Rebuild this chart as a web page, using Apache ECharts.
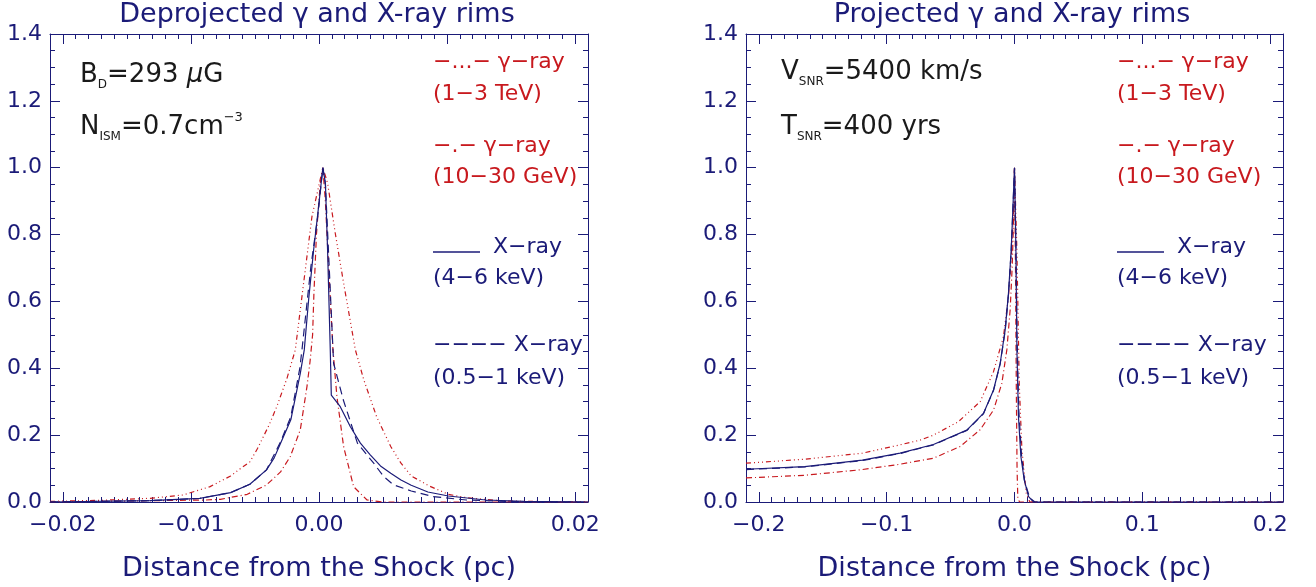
<!DOCTYPE html>
<html>
<head>
<meta charset="utf-8">
<script src="https://cdn.jsdelivr.net/npm/echarts@6/dist/echarts.min.js"></script>
<style>
html,body{margin:0;padding:0;background:#fff;}
#chart{width:1316px;height:587px;}
</style>
</head>
<body>
<div id="chart"></div>
<script>
// ---------- Data ----------
// Left panel: deprojected profiles
const leftTeV_x = [-0.021,-0.017,-0.0132,-0.0106,-0.0085,-0.0077,-0.0069,-0.0062,-0.0054,-0.0048,-0.0039,-0.0033,-0.0025,-0.00185,-0.0012,-0.00055,0.0003,0.00067,0.00127,0.00192,0.00284,0.0035,0.0045,0.0056,0.0064,0.0072,0.0086,0.0101,0.0115,0.0144,0.018,0.021];
const leftTeV_y = [0.002,0.005,0.011,0.021,0.046,0.062,0.078,0.098,0.12,0.16,0.23,0.285,0.37,0.455,0.655,0.854,1.0,0.954,0.804,0.655,0.455,0.365,0.255,0.166,0.116,0.078,0.048,0.023,0.013,0.003,0.001,0.0];

const leftGeV_x = [-0.021,-0.0088,-0.0077,-0.0056,-0.0041,-0.003,-0.00224,-0.00146,-0.00094,-0.0007,-0.0005,-0.0004,-0.0002,0.0001,0.0003,0.00049,0.00075,0.00109,0.0014,0.00192,0.0027,0.00375,0.005,0.021];
const leftGeV_y = [0.0,0.006,0.008,0.023,0.051,0.09,0.136,0.216,0.345,0.42,0.5,0.62,0.8,0.954,1.0,0.904,0.705,0.455,0.315,0.166,0.046,0.006,0.0,0.0];

const leftX46_x = [-0.021,-0.0132,-0.0093,-0.0069,-0.0054,-0.0041,-0.0035,-0.003,-0.0022,-0.00146,-0.00115,-0.00081,-0.00042,-0.00003,0.0003,0.0005,0.00067,0.00088,0.00096,0.00166,0.00245,0.00323,0.004,0.0048,0.0056,0.0064,0.0072,0.0085,0.0101,0.013,0.016,0.021];
const leftX46_y = [0.0,0.004,0.011,0.028,0.053,0.096,0.132,0.176,0.246,0.385,0.455,0.605,0.754,0.884,1.0,0.954,0.754,0.455,0.32,0.285,0.225,0.176,0.141,0.108,0.086,0.066,0.05,0.03,0.018,0.006,0.002,0.0];

const leftX051_x = [-0.021,-0.0132,-0.0093,-0.0069,-0.0054,-0.0041,-0.003,-0.0022,-0.0015,-0.00133,-0.00105,-0.00063,-0.0001,0.0003,0.0005,0.0008,0.00114,0.0019,0.003,0.00427,0.00505,0.00583,0.0072,0.0089,0.0115,0.015,0.021];
const leftX051_y = [0.0,0.004,0.011,0.028,0.053,0.096,0.18,0.255,0.4,0.455,0.555,0.705,0.854,1.0,0.95,0.7,0.415,0.305,0.176,0.116,0.076,0.051,0.033,0.016,0.006,0.001,0.0];

// Right panel: projected profiles
const rightTeV_x = [-0.21,-0.164,-0.119,-0.0895,-0.074,-0.0634,-0.044,-0.0269,-0.0164,-0.0086,-0.0047,-0.0026,-0.0008,0.0,0.0019,0.0037,0.0058,0.0092,0.012,0.21];
const rightTeV_y = [0.116,0.128,0.146,0.171,0.185,0.2,0.24,0.3,0.39,0.495,0.615,0.725,0.854,1.0,0.75,0.355,0.156,0.026,0.0,0.0];

const rightGeV_x = [-0.21,-0.164,-0.119,-0.0895,-0.0634,-0.0425,-0.0269,-0.0164,-0.0099,-0.006,-0.0034,-0.0018,-0.0008,0.0,0.0008,0.0014,0.002,0.0026,0.004,0.21];
const rightGeV_y = [0.072,0.08,0.097,0.113,0.131,0.166,0.216,0.275,0.355,0.455,0.575,0.705,0.834,1.0,0.7,0.35,0.1,0.01,0.0,0.0];

const rightX46_x = [-0.21,-0.164,-0.119,-0.0895,-0.0634,-0.0373,-0.0243,-0.0164,-0.0112,-0.0073,-0.0047,-0.0026,-0.0013,0.0,0.0011,0.0019,0.0031,0.005,0.0076,0.011,0.015,0.21];
const rightX46_y = [0.098,0.106,0.125,0.146,0.172,0.215,0.265,0.335,0.415,0.515,0.625,0.754,0.874,1.0,0.754,0.455,0.255,0.136,0.066,0.016,0.0,0.0];

const rightX051_x = [-0.21,-0.164,-0.119,-0.0895,-0.0634,-0.0373,-0.0243,-0.0164,-0.0112,-0.0073,-0.0047,-0.0026,-0.0013,0.0,0.0011,0.002,0.0033,0.0055,0.008,0.012,0.016,0.21];
const rightX051_y = [0.097,0.105,0.124,0.145,0.171,0.214,0.264,0.334,0.413,0.512,0.622,0.75,0.87,1.0,0.78,0.5,0.28,0.14,0.06,0.012,0.0,0.0];

// Tick labels
const leftXTicks = [-0.02,-0.01,0.00,0.01,0.02];
const rightXTicks = [-0.2,-0.1,0.0,0.1,0.2];
const yTicks = [0.0,0.2,0.4,0.6,0.8,1.0,1.2,1.4];

// Text
const leftTitle = 'Deprojected \u03b3 and X-ray rims';
const rightTitle = 'Projected \u03b3 and X-ray rims';
const xTitle = 'Distance from the Shock (pc)';
const legendTexts = ['\u2212...\u2212 \u03b3\u2212ray','(1\u22123 TeV)','\u2212.\u2212 \u03b3\u2212ray','(10\u221230 GeV)','X\u2212ray','(4\u22126 keV)','\u2212\u2212\u2212\u2212 X\u2212ray','(0.5\u22121 keV)'];

// ---------- Styling ----------
const NAVY = '#1b1b78';
const RED = '#c8191e';
const FONT = 'DejaVu Sans';

const chart = echarts.init(document.getElementById('chart'), null, {renderer:'canvas'});

function pairs(xs, ys){ return xs.map((x,i)=>[x, ys[i]]); }
function minorTicks(majors){
  const step = (majors[1]-majors[0])/10;
  const out = [];
  for (let k=-2; k<=(majors.length-1)*10+2; k++){
    const v = +(majors[0]+k*step).toFixed(6);
    if (k%10!==0) out.push(v);
  }
  return out;
}
function fmtX(dec){ return v => v.toFixed(dec).replace('-', '\u2212'); }

function xAxesFor(gridIndex, range, majors, dec){
  const base = {type:'value', gridIndex, min:-range, max:range, splitLine:{show:false}};
  const lineStyle = {color:NAVY, width:1};
  return [
    Object.assign({}, base, {position:'bottom',
      axisLine:{show:true, onZero:false, lineStyle},
      axisTick:{show:true, inside:true, length:10, customValues:majors, lineStyle},
      axisLabel:{show:true, customValues:majors, formatter:fmtX(dec), color:NAVY, fontFamily:FONT, fontSize:22, margin:12},
      name:xTitle, nameLocation:'middle', nameGap:53, nameTextStyle:{color:NAVY, fontFamily:FONT, fontSize:27}}),
    Object.assign({}, base, {position:'bottom',
      axisLine:{show:false, onZero:false},
      axisTick:{show:true, inside:true, length:5, customValues:minorTicks(majors), lineStyle},
      axisLabel:{show:false}}),
    Object.assign({}, base, {position:'top',
      axisLine:{show:true, onZero:false, lineStyle},
      axisTick:{show:true, inside:true, length:10, customValues:majors, lineStyle},
      axisLabel:{show:false}}),
    Object.assign({}, base, {position:'top',
      axisLine:{show:false, onZero:false},
      axisTick:{show:true, inside:true, length:5, customValues:minorTicks(majors), lineStyle},
      axisLabel:{show:false}})
  ];
}
function yAxesFor(gridIndex){
  const lineStyle = {color:NAVY, width:1};
  const base = {type:'value', gridIndex, min:yTicks[0], max:yTicks[yTicks.length-1], interval:0.2, splitLine:{show:false},
    minorTick:{show:true, splitNumber:4, length:5, lineStyle}};
  return [
    Object.assign({}, base, {position:'left',
      axisLine:{show:true, onZero:false, lineStyle},
      axisTick:{show:true, inside:true, length:10, lineStyle},
      axisLabel:{show:true, formatter:v=>v.toFixed(1), color:NAVY, fontFamily:FONT, fontSize:22, margin:8}}),
    Object.assign({}, base, {position:'right',
      axisLine:{show:true, onZero:false, lineStyle},
      axisTick:{show:true, inside:true, length:10, lineStyle},
      axisLabel:{show:false}})
  ];
}

const TEV_DASH = [5,3,1,3,1,3,1,3];
const GEV_DASH = [6,3,1,3];
const XDASH = [8,5];

function line(data, xi, yi, color, type){
  return {type:'line', data, xAxisIndex:xi, yAxisIndex:yi, showSymbol:false, symbol:'none', smooth:false,
    lineStyle:{color, width:1.2, type}, silent:true, z:3};
}

const series = [
  line(pairs(leftTeV_x,leftTeV_y),0,0,RED,TEV_DASH),
  line(pairs(leftGeV_x,leftGeV_y),0,0,RED,GEV_DASH),
  line(pairs(leftX46_x,leftX46_y),0,0,NAVY,'solid'),
  line(pairs(leftX051_x,leftX051_y),0,0,NAVY,XDASH),
  line(pairs(rightTeV_x,rightTeV_y),4,2,RED,TEV_DASH),
  line(pairs(rightGeV_x,rightGeV_y),4,2,RED,GEV_DASH),
  line(pairs(rightX46_x,rightX46_y),4,2,NAVY,'solid'),
  line(pairs(rightX051_x,rightX051_y),4,2,NAVY,XDASH)
];

// ---------- Graphic texts ----------
const legendY = [62,94,146,177,247,278,345,378];
const legendColor = [RED,RED,RED,RED,NAVY,NAVY,NAVY,NAVY];
function legendFor(x0){
  const g = [];
  legendTexts.forEach((t,i)=>{
    const isSolid = (i===4);
    g.push({type:'text', x: isSolid ? x0+60 : x0, y: legendY[i], silent:true,
      style:{text:t, fill:legendColor[i], font:'22px "DejaVu Sans"', textVerticalAlign:'middle', textAlign:'left'}});
  });
  g.push({type:'line', silent:true, shape:{x1:x0, y1:legendY[4]+5, x2:x0+47, y2:legendY[4]+5}, style:{stroke:NAVY, lineWidth:1.4}});
  return g;
}
const rich = {
  m:{fontSize:26, fontFamily:FONT, fill:'#1a1a1a', lineHeight:32},
  i:{fontSize:26, fontFamily:FONT, fontStyle:'italic', fill:'#1a1a1a', lineHeight:32},
  s:{fontSize:12, fontFamily:FONT, fill:'#1a1a1a', lineHeight:24, verticalAlign:'bottom'},
  u:{fontSize:13, fontFamily:FONT, fill:'#1a1a1a', lineHeight:15, verticalAlign:'top'}
};
function rtext(x, y, text){
  return {type:'text', x, y, silent:true, style:{text, rich, textVerticalAlign:'middle', textAlign:'left'}};
}

const graphic = [
  {type:'text', x:317, y:15, silent:true, style:{text:leftTitle, fill:NAVY, font:'27px "DejaVu Sans"', textAlign:'center', textVerticalAlign:'middle'}},
  {type:'text', x:1012, y:15, silent:true, style:{text:rightTitle, fill:NAVY, font:'27px "DejaVu Sans"', textAlign:'center', textVerticalAlign:'middle'}},
  rtext(80, 75, '{m|B}{s|D}{m|=293 }{i|\u03bc}{m|G}'),
  rtext(80, 127, '{m|N}{s|ISM}{m|=0.7cm}{u|\u22123}'),
  rtext(781, 72, '{m|V}{s|SNR}{m|=5400 km/s}'),
  rtext(781, 127, '{m|T}{s|SNR}{m|=400 yrs}')
].concat(legendFor(433)).concat(legendFor(1117));

const option = {
  animation:false,
  backgroundColor:'#ffffff',
  grid:[
    {left:50, top:34, width:538, height:468},
    {left:746, top:34, width:537, height:468}
  ],
  xAxis: xAxesFor(0, 0.021, leftXTicks, 2).concat(xAxesFor(1, 0.21, rightXTicks, 1)),
  yAxis: yAxesFor(0).concat(yAxesFor(1)),
  series,
  graphic
};
chart.setOption(option);
</script>
</body>
</html>
